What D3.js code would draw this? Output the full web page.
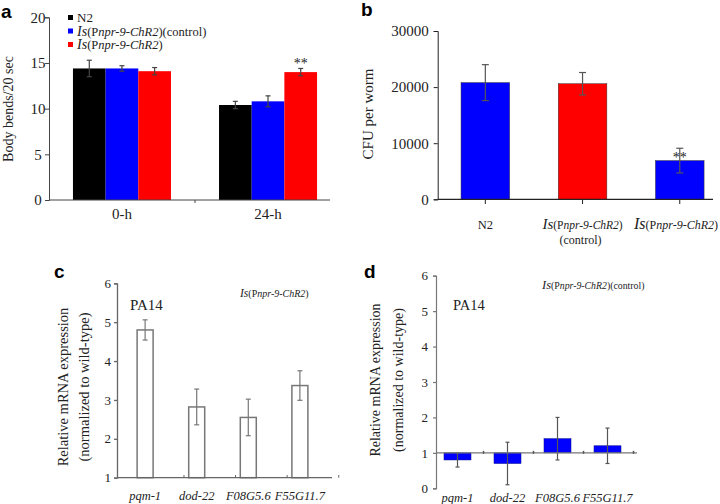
<!DOCTYPE html>
<html>
<head>
<meta charset="utf-8">
<script src="https://cdn.jsdelivr.net/npm/d3@7"></script>
<style>
  body { margin: 0; background: #fff; }
  svg text { font-family: "Liberation Serif", "Times New Roman", serif; fill: #222; }
  svg text.panel { font-family: "Liberation Sans", Arial, sans-serif; font-weight: bold; font-size: 19px; fill: #000; }
</style>
</head>
<body>
<div id="chart"></div>
<script>
// panel a data
var groupsA = ["0-h", "24-h"];
var seriesA = ["N2", "control", "ChR2"];
var meansA = [[14.4, 14.4, 14.1], [10.4, 10.8, 14.0]];
var errA = [[0.9, 0.3, 0.4], [0.4, 0.6, 0.4]];
var colorsA = ["#000000", "#0000ff", "#ff0000"];

// panel b data
var strainsB = ["N2", "control", "ChR2"];
var meansB = [20800, 20600, 6900];
var errB = [3200, 2000, 2200];
var colorsB = ["#0000ff", "#ff0000", "#0000ff"];

// panels c and d data
var genes = ["pqm-1", "dod-22", "F08G5.6", "F55G11.7"];
var meansC = [4.8, 2.82, 2.55, 3.37];
var errC = [0.26, 0.46, 0.47, 0.38];
var meansD = [0.8, 0.7, 1.4, 1.2];
var errD = [0.2, 0.6, 0.6, 0.5];

var svg = d3.select("#chart").append("svg")
    .attr("width", 720)
    .attr("height", 504)
    .attr("font-family", "Liberation Serif, serif");

// write "Is(Pnpr-9-ChR2)" with the mixed italic styling
function strainText(t, small, big, control) {
    t.append("tspan").attr("font-style", "italic").attr("font-size", big).text("Is");
    t.append("tspan").attr("font-size", small).text("(P");
    t.append("tspan").attr("font-style", "italic").attr("font-size", small).text("npr-9-ChR2");
    t.append("tspan").attr("font-size", small).text(")");
    if (control) t.append("tspan").attr("font-size", small).text("(control)");
    return t;
}

function errorBars(g, data, x, y, color, cap) {
    g.selectAll(null).data(data).enter().append("line")
        .attr("x1", d => x(d)).attr("x2", d => x(d))
        .attr("y1", d => y(d.lo)).attr("y2", d => y(d.hi))
        .attr("stroke", color).attr("stroke-width", 1.2);
    g.selectAll(null).data(data).enter().append("line")
        .attr("x1", d => x(d) - cap).attr("x2", d => x(d) + cap)
        .attr("y1", d => y(d.hi)).attr("y2", d => y(d.hi))
        .attr("stroke", color).attr("stroke-width", 1.2);
    g.selectAll(null).data(data).enter().append("line")
        .attr("x1", d => x(d) - cap).attr("x2", d => x(d) + cap)
        .attr("y1", d => y(d.lo)).attr("y2", d => y(d.lo))
        .attr("stroke", color).attr("stroke-width", 1.2);
}

// ---------- panel a ----------
(function () {
    var g = svg.append("g");
    var y = d3.scaleLinear().domain([0, 20]).range([200, 17.3]);
    var x0 = d3.scaleBand().domain(groupsA).range([49, 341]).paddingInner(0.329).paddingOuter(0.164);
    var x1 = d3.scaleBand().domain(seriesA).range([0, x0.bandwidth()]);

    var rows = [];
    groupsA.forEach(function (grp, i) {
        seriesA.forEach(function (s, j) {
            rows.push({grp: grp, s: s, v: meansA[i][j], lo: meansA[i][j] - errA[i][j], hi: meansA[i][j] + errA[i][j], c: colorsA[j]});
        });
    });

    g.selectAll("rect").data(rows).enter().append("rect")
        .attr("x", d => x0(d.grp) + x1(d.s))
        .attr("y", d => y(d.v))
        .attr("width", x1.bandwidth())
        .attr("height", d => y(0) - y(d.v))
        .attr("fill", d => d.c);

    errorBars(g, rows, d => x0(d.grp) + x1(d.s) + x1.bandwidth() / 2, y, "#444", 2.5);

    var yAxis = d3.axisLeft(y).tickValues([0, 5, 10, 15, 20]).tickSize(4).tickFormat(d3.format("d"));
    var ya = g.append("g").attr("transform", "translate(49,0)").call(yAxis);
    ya.selectAll("text").attr("text-anchor", "middle").attr("x", -11).attr("font-size", 15);
    ya.selectAll("line, path").attr("stroke", "#444");
    ya.attr("font-family", null);

    g.append("line").attr("x1", 49).attr("x2", 330).attr("y1", 200).attr("y2", 200).attr("stroke", "#444");
    g.append("line").attr("x1", 195).attr("x2", 195).attr("y1", 200).attr("y2", 203).attr("stroke", "#444");
    g.selectAll(".xl").data(groupsA).enter().append("text")
        .attr("x", d => x0(d) + x0.bandwidth() / 2).attr("y", 219)
        .attr("text-anchor", "middle").attr("font-size", 15).text(d => d);

    g.append("text").attr("transform", "translate(13,109) rotate(-90)")
        .attr("text-anchor", "middle").attr("font-size", 14).text("Body bends/20 sec");

    // legend
    var leg = g.selectAll(".leg").data(seriesA).enter().append("g")
        .attr("transform", (d, i) => "translate(68," + (17.5 + i * 13.5) + ")");
    leg.append("rect").attr("x", 0).attr("y", -2.5).attr("width", 5).attr("height", 5).attr("fill", (d, i) => colorsA[i]);
    leg.each(function (d, i) {
        var t = d3.select(this).append("text").attr("x", 9).attr("y", 4.5);
        if (i === 0) t.attr("font-size", 13).text("N2");
        else strainText(t, 12.5, 14, i === 1);
    });

    g.append("text").attr("x", x0("24-h") + x1("ChR2") + x1.bandwidth() / 2).attr("y", 68)
        .attr("text-anchor", "middle").attr("font-size", 14).text("**");

    g.append("text").attr("class", "panel").attr("x", 1).attr("y", 18).text("a");
})();

// ---------- panel b ----------
(function () {
    var g = svg.append("g");
    var y = d3.scaleLinear().domain([0, 30000]).range([199.3, 31]);
    var x = d3.scaleBand().domain(strainsB).range([437.7, 727.4]).paddingInner(0.5).paddingOuter(0.24);
    var rows = strainsB.map((s, i) => ({s: s, v: meansB[i], lo: meansB[i] - errB[i], hi: meansB[i] + errB[i], c: colorsB[i]}));

    g.selectAll("rect").data(rows).enter().append("rect")
        .attr("x", d => x(d.s)).attr("y", d => y(d.v))
        .attr("width", x.bandwidth()).attr("height", d => y(0) - y(d.v))
        .attr("fill", d => d.c).attr("stroke", "#333").attr("stroke-width", 0.5);

    errorBars(g, rows, d => x(d.s) + x.bandwidth() / 2, y, "#555", 3.5);

    var ya = g.append("g").attr("transform", "translate(437.7,0)")
        .call(d3.axisLeft(y).tickValues([0, 10000, 20000, 30000]).tickSize(4).tickFormat(d3.format("d")));
    ya.selectAll("text").attr("font-size", 15).attr("x", -9);
    ya.selectAll("line, path").attr("stroke", "#222");
    ya.attr("font-family", null);

    g.append("line").attr("x1", 437.7).attr("x2", 713).attr("y1", 199.3).attr("y2", 199.3).attr("stroke", "#222").attr("stroke-width", 1.2);
    g.selectAll(".tk").data(strainsB).enter().append("line")
        .attr("x1", d => x(d) + x.bandwidth() / 2).attr("x2", d => x(d) + x.bandwidth() / 2)
        .attr("y1", 199.3).attr("y2", 204).attr("stroke", "#222");

    g.append("text").attr("x", x("N2") + x.bandwidth() / 2).attr("y", 229)
        .attr("text-anchor", "middle").attr("font-size", 12.5).text("N2");
    strainText(g.append("text").attr("x", x("control") + x.bandwidth() / 2).attr("y", 229)
        .attr("text-anchor", "middle"), 11.5, 15, false);
    strainText(g.append("text").attr("x", 718).attr("y", 229)
        .attr("text-anchor", "end"), 12, 16, false);
    g.append("text").attr("x", x("control") + x.bandwidth() / 2 - 2).attr("y", 244)
        .attr("text-anchor", "middle").attr("font-size", 12).text("(control)");

    g.append("text").attr("transform", "translate(373,114) rotate(-90)")
        .attr("text-anchor", "middle").attr("font-size", 15).text("CFU per worm");

    g.append("text").attr("x", x("ChR2") + x.bandwidth() / 2).attr("y", 162)
        .attr("text-anchor", "middle").attr("font-size", 14).text("**");

    g.append("text").attr("class", "panel").attr("x", 361).attr("y", 16).text("b");
})();

// ---------- panel c ----------
(function () {
    var g = svg.append("g");
    var y = d3.scaleLinear().domain([1, 6]).range([477.7, 283.3]);
    var x = d3.scaleBand().domain(genes).range([117, 328]).paddingInner(0.69).paddingOuter(0.39);
    var rows = genes.map((s, i) => ({s: s, v: meansC[i], lo: meansC[i] - errC[i], hi: meansC[i] + errC[i]}));

    g.selectAll("rect").data(rows).enter().append("rect")
        .attr("x", d => x(d.s)).attr("y", d => y(d.v))
        .attr("width", x.bandwidth()).attr("height", d => y(1) - y(d.v))
        .attr("fill", "#fff").attr("stroke", "#777").attr("stroke-width", 1.5);

    errorBars(g, rows, d => x(d.s) + x.bandwidth() / 2, y, "#777", 2.5);

    var ya = g.append("g").attr("transform", "translate(117,0)")
        .call(d3.axisLeft(y).ticks(5).tickSize(3).tickFormat(d3.format("d")));
    ya.selectAll("text").attr("font-size", 13).attr("x", -6);
    ya.selectAll("line, path").attr("stroke", "#666").attr("stroke-width", 1.3);
    ya.attr("font-family", null);

    g.append("line").attr("x1", 117).attr("x2", 332).attr("y1", 477.7).attr("y2", 477.7).attr("stroke", "#666").attr("stroke-width", 1.3);
    g.selectAll(".tk").data(genes).enter().append("line")
        .attr("x1", d => x(d) + x.step() - x.step() * 0.15 + 3).attr("x2", d => x(d) + x.step() - x.step() * 0.15 + 3)
        .attr("y1", 477.7).attr("y2", 475).attr("stroke", "#666");

    g.selectAll(".xl").data(genes).enter().append("text")
        .attr("x", d => x(d) + x.bandwidth() / 2).attr("y", 500)
        .attr("text-anchor", "middle").attr("font-size", 12.5).attr("font-style", "italic").text(d => d);

    var yl = g.append("text").attr("transform", "translate(68,387) rotate(-90)")
        .attr("text-anchor", "middle").attr("font-size", 14.5);
    yl.append("tspan").attr("x", 0).attr("y", 0).text("Relative mRNA expression");
    yl.append("tspan").attr("x", 0).attr("y", 21).text("(normalized to wild-type)");

    g.append("text").attr("x", 130).attr("y", 310).attr("font-size", 15).text("PA14");
    strainText(g.append("text").attr("x", 240).attr("y", 297), 10, 11.5, false);

    g.append("text").attr("class", "panel").attr("x", 54).attr("y", 278).text("c");
})();

// ---------- panel d ----------
(function () {
    var g = svg.append("g");
    var y = d3.scaleLinear().domain([0, 6]).range([488.3, 275.7]);
    var x = d3.scaleBand().domain(genes).range([436, 629]).paddingInner(0.46).paddingOuter(0.16);
    var rows = genes.map((s, i) => ({s: s, v: meansD[i], lo: meansD[i] - errD[i], hi: meansD[i] + errD[i]}));

    g.selectAll("rect").data(rows).enter().append("rect")
        .attr("x", d => x(d.s)).attr("y", d => y(Math.max(1, d.v)))
        .attr("width", x.bandwidth()).attr("height", d => Math.abs(y(d.v) - y(1)))
        .attr("fill", "#0000ff").attr("stroke", "#00008a").attr("stroke-width", 0.5);

    errorBars(g, rows, d => x(d.s) + x.bandwidth() / 2, y, "#555", 2);

    var ya = g.append("g").attr("transform", "translate(436,0)")
        .call(d3.axisLeft(y).ticks(6).tickSize(3).tickFormat(d3.format("d")));
    ya.selectAll("text").attr("font-size", 13).attr("x", -8);
    ya.selectAll("line, path").attr("stroke", "#777").attr("stroke-width", 1.2);
    ya.attr("font-family", null);

    g.append("line").attr("x1", 436).attr("x2", 637).attr("y1", y(1)).attr("y2", y(1)).attr("stroke", "#777").attr("stroke-width", 1.3);
    g.selectAll(".tk").data(genes).enter().append("line")
        .attr("x1", d => x(d) + x.bandwidth() + (x.step() - x.bandwidth()) / 2 + 1)
        .attr("x2", d => x(d) + x.bandwidth() + (x.step() - x.bandwidth()) / 2 + 1)
        .attr("y1", y(1) - 2).attr("y2", y(1) + 1).attr("stroke", "#555").attr("stroke-width", 1.5);

    g.selectAll(".xl").data(genes).enter().append("text")
        .attr("x", d => x(d) + x.bandwidth() / 2).attr("y", 502)
        .attr("text-anchor", "middle").attr("font-size", 12.5).attr("font-style", "italic").text(d => d);

    var yl = g.append("text").attr("transform", "translate(380,380) rotate(-90)")
        .attr("text-anchor", "middle").attr("font-size", 14);
    yl.append("tspan").attr("x", 0).attr("y", 0).text("Relative mRNA expression");
    yl.append("tspan").attr("x", 0).attr("y", 23).text("(normalized to wild-type)");

    g.append("text").attr("x", 453).attr("y", 310).attr("font-size", 14.5).text("PA14");
    strainText(g.append("text").attr("x", 542).attr("y", 289), 9.8, 12.5, true);

    g.append("text").attr("class", "panel").attr("x", 364).attr("y", 278).text("d");
})();
</script>
</body>
</html>
